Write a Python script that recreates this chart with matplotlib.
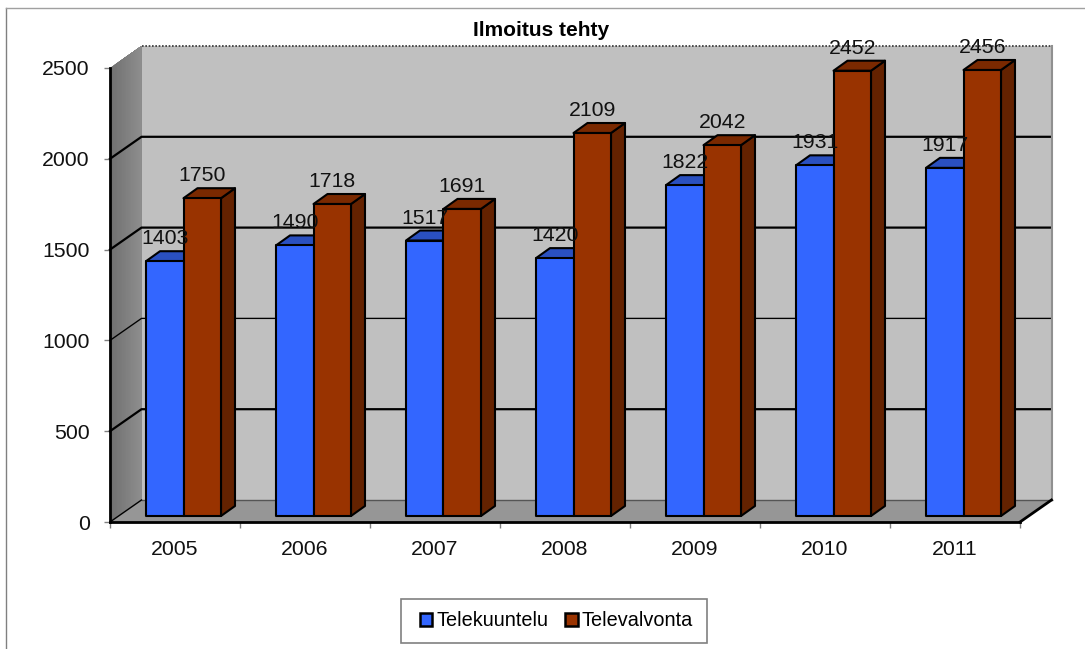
import numpy as np
import matplotlib
matplotlib.use("Agg")
import matplotlib.pyplot as plt
from matplotlib.patches import Patch, Polygon, Rectangle

# data
years = ["2005", "2006", "2007", "2008", "2009", "2010", "2011"]
telekuuntelu = [1403, 1490, 1517, 1420, 1822, 1931, 1917]
televalvonta = [1750, 1718, 1691, 2109, 2042, 2452, 2456]
y_ticks = [0, 500, 1000, 1500, 2000, 2500]

plt.rcParams["font.family"] = ["Liberation Sans", "DejaVu Sans"]

W, H = 1085, 649
fig = plt.figure(figsize=(W / 100, H / 100), dpi=100)

# front plane of the 3d box
left, right, bottom, top = 110, 1020, 522, 68
ax = fig.add_axes([left / W, 1 - bottom / H, (right - left) / W, (bottom - top) / H])
n = len(years)
ax.set_xlim(0, n)
ax.set_ylim(0, 2500)
ax.patch.set_visible(False)

# one pixel in data units
px = n / (right - left)
py = 2500 / (bottom - top)

# depth of the box
box_dx = 31.5 * px
box_dy = 22 * py


def poly(points, color, z, edge="none", lw=0):
    p = Polygon(points, closed=True, facecolor=color, edgecolor=edge, linewidth=lw,
                zorder=z, clip_on=False, joinstyle="round")
    ax.add_patch(p)
    return p


# walls
poly([(box_dx, box_dy), (n + box_dx, box_dy), (n + box_dx, 2500 + box_dy), (box_dx, 2500 + box_dy)], "#C0C0C0", 1)

# left wall, shaded: each layer reaches the back so no seams show
steps = 24
for k in range(steps):
    a = k / steps
    g = 0.44 + 0.12 * a
    poly([(a * box_dx, a * box_dy), (box_dx, box_dy),
          (box_dx, 2500 + box_dy), (a * box_dx, 2500 + a * box_dy)], (g, g, g), 1 + k * 0.001)
# floor
poly([(0, 0), (n, 0), (n + box_dx, box_dy), (box_dx, box_dy)], "#969696", 1.1)

# gridlines on back wall and left wall
grid_widths = {500: 2.0, 1000: 1.2, 1500: 2.0, 2000: 2.0}
for v, lw in grid_widths.items():
    ax.plot([0, box_dx, n + box_dx], [v, v + box_dy, v + box_dy], color="black", lw=lw * 0.8,
            zorder=2, clip_on=False)
ax.plot([box_dx, n + box_dx], [box_dy, box_dy], color="#555555", lw=1, zorder=2, clip_on=False)
ax.plot([box_dx, n + box_dx], [2500 + box_dy, 2500 + box_dy], color="#333333", lw=1.2, ls=(0, (1, 1)),
        zorder=2, clip_on=False)
ax.plot([n + box_dx, n + box_dx], [box_dy, 2500 + box_dy], color="#909090", lw=1.5, zorder=2, clip_on=False)
ax.plot([0, box_dx], [0, box_dy], color="black", lw=1, zorder=2, clip_on=False)
ax.plot([n, n + box_dx], [0, box_dy], color="black", lw=2, zorder=2, clip_on=False)

# bars
base_dx = 36 * px
base_y = 6 * py
bar_w = 37.5 * px
bar_dx = 14 * px
bar_dy = 10 * py


def bar3d(x0, value, front, top_c, side, z):
    x1 = x0 + bar_w
    y0 = base_y
    y1 = base_y + value
    poly([(x1, y0), (x1 + bar_dx, y0 + bar_dy), (x1 + bar_dx, y1 + bar_dy), (x1, y1)], side, z, "black", 1.5)
    poly([(x0, y1), (x1, y1), (x1 + bar_dx, y1 + bar_dy), (x0 + bar_dx, y1 + bar_dy)], top_c, z, "black", 1.5)
    poly([(x0, y0), (x1, y0), (x1, y1), (x0, y1)], front, z, "black", 1.5)


for i in range(n):
    x_a = i + base_dx
    x_b = x_a + bar_w
    bar3d(x_a, telekuuntelu[i], "#3366FF", "#2A50C0", "#1E3C90", 3 + i * 0.1)
    bar3d(x_b, televalvonta[i], "#993300", "#7A2900", "#642200", 3.05 + i * 0.1)
    ax.text(x_a + bar_w / 2, base_y + telekuuntelu[i] + 22.5 * py, str(telekuuntelu[i]), ha="center", va="center",
            fontsize=15.3, color="#111111", zorder=10, clip_on=False)
    ax.text(x_b + bar_w / 2, base_y + televalvonta[i] + 22.5 * py, str(televalvonta[i]), ha="center", va="center",
            fontsize=15.3, color="#111111", zorder=10, clip_on=False)

# axes
for name, spine in ax.spines.items():
    spine.set_visible(name in ("left", "bottom"))
    spine.set_color("black")
    spine.set_linewidth(2)
    spine.set_zorder(2.5)
ax.set_yticks(y_ticks)
ax.set_xticks(np.arange(n + 1))
ax.set_xticklabels([])
ax.set_xticks(np.arange(n) + 0.5, labels=years, minor=True)
ax.tick_params(axis="y", length=4.5, width=1, color="#808080", pad=10, labelsize=15.3, labelcolor="#111111")
ax.tick_params(axis="x", which="major", length=4.5, width=1, color="#808080")
ax.tick_params(axis="x", which="minor", length=0, pad=13, labelsize=15.3, labelcolor="#111111")

# title
fig.text(541.5 / W, 1 - 31 / H, "Ilmoitus tehty", ha="center", va="center", fontsize=15, fontweight="bold")

# legend, frame drawn apart because it is tighter vertically than the legend padding
handles = [Patch(facecolor="#3366FF", edgecolor="black", linewidth=1.8, label="Telekuuntelu"),
           Patch(facecolor="#993300", edgecolor="black", linewidth=1.8, label="Televalvonta")]
fig.add_artist(Rectangle((400.5 / W, 1 - 643 / H), 306.5 / W, 44 / H, transform=fig.transFigure,
                         facecolor="white", edgecolor="#808080", linewidth=1.2))
leg = fig.legend(handles=handles, loc="center", bbox_to_anchor=(556.5 / W, 1 - 621 / H), ncol=2, fontsize=14.3,
                 frameon=False, handlelength=0.62, handleheight=0.62, handletextpad=0.2,
                 columnspacing=0.85, borderpad=0, borderaxespad=0)

# outer chart border, only top and left show in the crop
fig.add_artist(plt.Line2D([5.5 / W, 5.5 / W], [0, 1 - 7.5 / H], color="#808080", lw=1))
fig.add_artist(plt.Line2D([5.5 / W, 1], [1 - 7.5 / H, 1 - 7.5 / H], color="#A0A0A0", lw=1))

fig.savefig("out.png", dpi=100)
